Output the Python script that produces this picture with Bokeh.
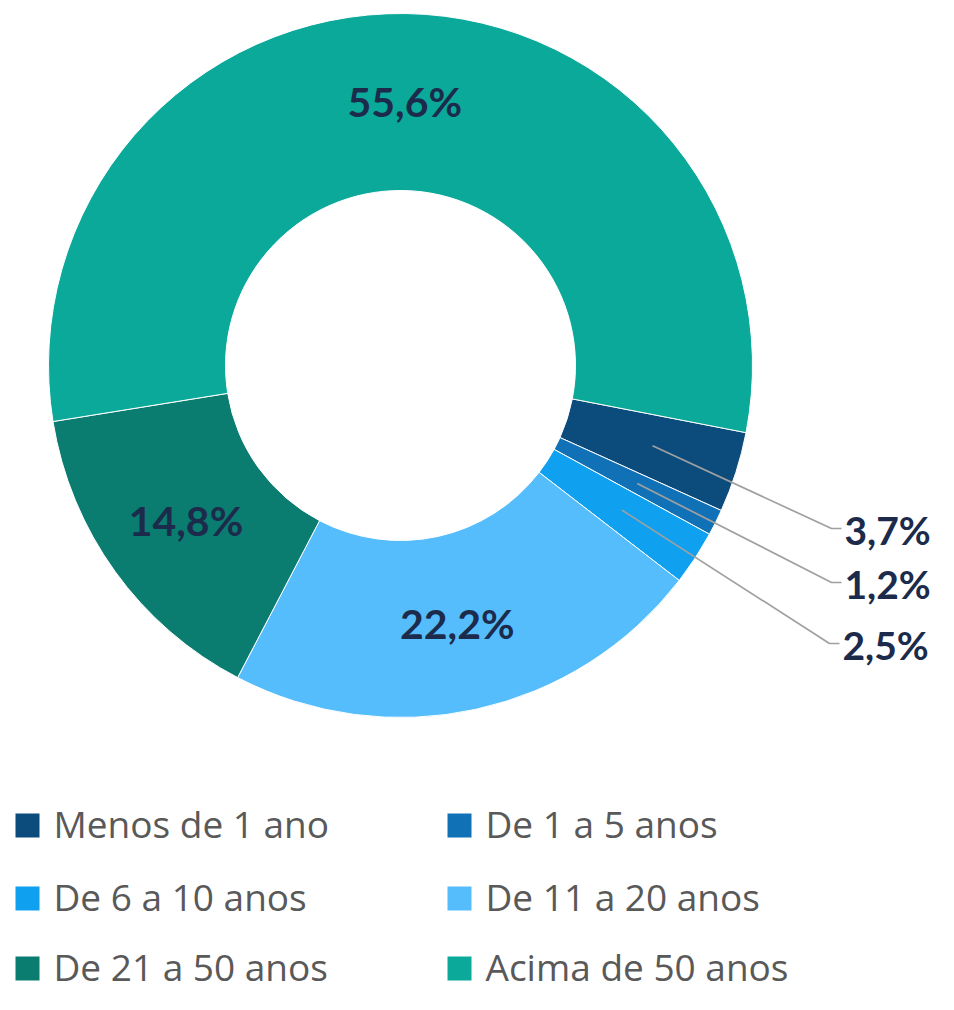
import math
from bokeh.plotting import figure
from bokeh.models import Range1d, ColumnDataSource
from bokeh.core.properties import value
from bokeh.embed import file_html
from bokeh.resources import INLINE

# ---- data ----
categories = ["Menos de 1 ano", "De 1 a 5 anos", "De 6 a 10 anos",
              "De 11 a 20 anos", "De 21 a 50 anos", "Acima de 50 anos"]
values = [3.7, 1.2, 2.5, 22.2, 14.8, 55.6]
pct_labels = ["3,7%", "1,2%", "2,5%", "22,2%", "14,8%", "55,6%"]
outside = [True, True, True, False, False, False]

# ---- style ----
colors = ["#0B4C7D", "#1171B7", "#0FA0F0", "#56BDFD", "#0A7C70", "#0BA99A"]
label_color = "#1C2B4B"
legend_text_color = "#595959"
W, H = 938, 994
PAGE_H = 1010

def py(yy):  # picture y (downwards) -> data y
    return PAGE_H - yy

cx, cy = 400, py(365)
r_out, r_in = 352, 175
start_clock = 101.0  # degrees clockwise from 12 o'clock

p = figure(width=W, height=H, output_backend="svg", toolbar_location=None,
           x_range=Range1d(0, W), y_range=Range1d(PAGE_H - H, PAGE_H),
           min_border=0)
p.axis.visible = False
p.grid.visible = False
p.outline_line_color = None
p.background_fill_color = "white"

total = sum(values)
starts, ends, mids = [], [], []
acc = start_clock
for v in values:
    t1 = acc
    t2 = acc + v / total * 360.0
    starts.append(math.radians(90 - t2))
    ends.append(math.radians(90 - t1))
    mids.append((t1 + t2) / 2)
    acc = t2

src = ColumnDataSource(dict(x=[cx] * len(values), y=[cy] * len(values),
                            s=starts, e=ends, c=colors))
p.annular_wedge(x="x", y="y", inner_radius=r_in, outer_radius=r_out,
                start_angle="s", end_angle="e", fill_color="c",
                line_color="white", line_width=1, source=src)

r_mid = (r_in + r_out) / 2 + 1
ix, iy, it = [], [], []
ox, oy, ot = [], [], []
lead_xs, lead_ys = [], []
# elbow positions for the outside labels (picture coordinates)
elbows = [(831, 528), (831, 582), (829, 643)]
k = 0
for i, m in enumerate(mids):
    mx = cx + r_mid * math.sin(math.radians(m))
    my = cy + r_mid * math.cos(math.radians(m))
    if outside[i]:
        ex, ey = elbows[k]
        k += 1
        lead_xs.append([mx, ex, ex + 10])
        lead_ys.append([my, py(ey), py(ey)])
        ox.append(ex + 13)
        oy.append(py(ey + 1))
        ot.append(pct_labels[i])
    else:
        ix.append(mx)
        iy.append(my)
        it.append(pct_labels[i])

p.multi_line(xs=lead_xs, ys=lead_ys, line_color="#A0A0A0", line_width=1.7)
p.text(x=ix, y=iy, text=it, text_font=value("Lato"), text_font_style="bold",
       text_font_size="41px", text_color=label_color,
       text_align="center", text_baseline="middle")
p.text(x=ox, y=oy, text=ot, text_font=value("Lato"), text_font_style="bold",
       text_font_size="39px", text_color=label_color,
       text_align="left", text_baseline="middle")

# ---- legend (two columns, row-major) ----
col_x = [15, 447]
row_mid = [825, 898, 968]
sq_x, sq_y, tx, ty = [], [], [], []
for i, name in enumerate(categories):
    r, c = divmod(i, 2)
    sq_x.append(col_x[c] + 12)
    sq_y.append(py(row_mid[r]))
    tx.append(col_x[c] + 38)
    ty.append(py(row_mid[r] - 2))
p.scatter(x=sq_x, y=sq_y, marker="square", size=24, fill_color=colors,
          line_color=None)
p.text(x=tx, y=ty, text=categories, text_font=value("Open Sans"),
       text_font_size="37px", text_color=legend_text_color,
       text_align="left", text_baseline="middle")

open("out.html", "w").write(file_html(p, INLINE))
